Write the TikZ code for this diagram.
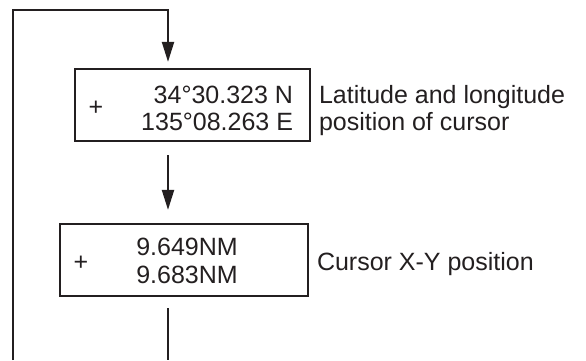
\documentclass[tikz,border=0pt]{standalone}
\usepackage{fontspec}
\setmainfont{Liberation Sans}
\usetikzlibrary{arrows.meta,calc}
\definecolor{inkBlack}{HTML}{231F20}

\begin{document}
\begin{tikzpicture}[x=1pt, y=-1pt, line width=2pt, color=inkBlack,
  readout/.style={draw, line width=2.2pt, minimum width=#1, minimum height=72pt, inner sep=0pt},
  flow/.style={-{Triangle[length=20pt,width=12pt]}},
  txt/.style={font=\fontsize{25}{27}\selectfont, inner sep=0pt}]
  \useasboundingbox (0,0) rectangle (586,360);

  % lat/long readout
  \node[readout=235pt] (pos) at (192.5,105) {};
  \node[txt] (posplus) at (96,108) {+};
  \node[txt, anchor=base east] (poslat) at (294,103) {34°30.323 N};
  \node[txt, anchor=base east] (poslon) at (294,130) {135°08.263 E};
  \node[txt, anchor=base west] (posnote1) at (318,103) {Latitude and longitude};
  \node[txt, anchor=base west] (posnote2) at (318,130) {position of cursor};

  % X-Y readout
  \node[readout=248pt] (xy) at (184,260) {};
  \node[txt] (xyplus) at (81,263) {+};
  \node[txt, anchor=base] (xyx) at (187,255) {9.649NM};
  \node[txt, anchor=base] (xyy) at (187,283) {9.683NM};
  \node[txt, anchor=base west] (xynote) at (316,270) {Cursor X-Y position};

  % loop back
  \coordinate (loopin) at (12.5,360);
  \coordinate (looptop) at (12.5,10);
  \coordinate (loopturn) at (168,10);
  \coordinate (loopout) at (168,360);
  \draw[flow, shorten >=6pt] (loopin) -- (looptop) -- (loopturn) -- (loopturn |- pos.north);
  \draw[flow, shorten <=13pt, shorten >=13pt] (loopturn |- pos.south) -- (loopturn |- xy.north);
  \draw[shorten <=11pt] (loopturn |- xy.south) -- (loopout);
\end{tikzpicture}
\end{document}
